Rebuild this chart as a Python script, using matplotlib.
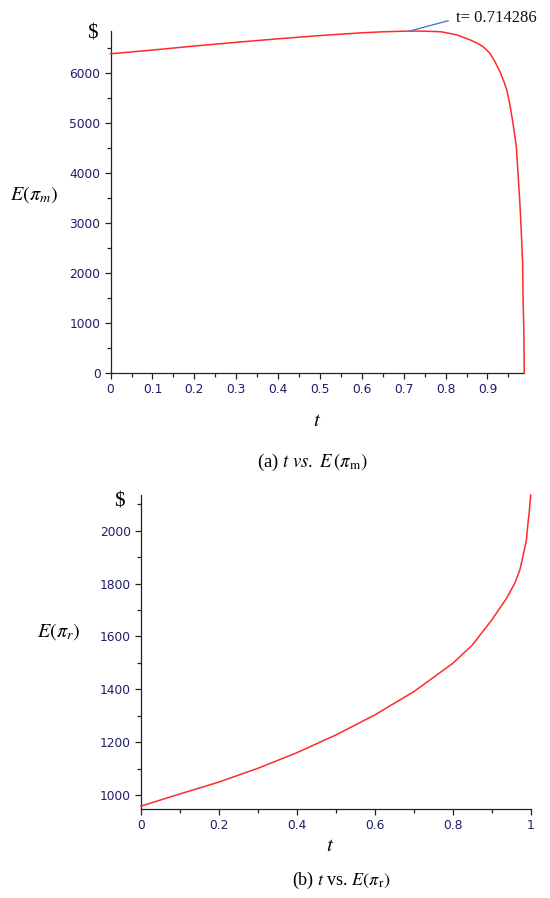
import matplotlib
matplotlib.use("Agg")
import matplotlib.pyplot as plt
from matplotlib.ticker import MultipleLocator, FixedLocator, FuncFormatter

plt.rcParams['mathtext.fontset'] = 'stix'

# ---------------- data ----------------
t_m = [0, 0.1, 0.2, 0.3, 0.4, 0.5, 0.6, 0.65, 0.714286, 0.75, 0.79, 0.826,
       0.858, 0.875, 0.89, 0.906, 0.918, 0.93, 0.94, 0.946, 0.953, 0.961,
       0.969, 0.973, 0.977, 0.981, 0.984, 0.985, 0.987, 0.988]
E_m = [6390, 6465, 6545, 6620, 6690, 6755, 6810, 6830, 6845, 6843, 6830, 6770,
       6670, 6605, 6530, 6400, 6230, 6030, 5820, 5670, 5400, 5000,
       4530, 4000, 3470, 2800, 2200, 1500, 800, 0]
t_peak = 0.714286
E_peak = 6845
peak_label = "t= 0.714286"

t_r = [0, 0.1, 0.2, 0.3, 0.4, 0.5, 0.6, 0.7, 0.8, 0.85, 0.9, 0.938, 0.959,
       0.972, 0.98, 0.989, 0.993, 0.996, 1.0]
E_r = [958, 1004, 1049, 1101, 1160, 1227, 1303, 1391, 1498, 1567, 1662, 1744,
       1801, 1851, 1902, 1965, 2028, 2066, 2135]

xticks_top = [0, 0.1, 0.2, 0.3, 0.4, 0.5, 0.6, 0.7, 0.8, 0.9]
yticks_top = [0, 1000, 2000, 3000, 4000, 5000, 6000]
xticks_bot = [0, 0.2, 0.4, 0.6, 0.8, 1]
yticks_bot = [1000, 1200, 1400, 1600, 1800, 2000]

W, H = 550, 898
fig = plt.figure(figsize=(W / 100, H / 100), dpi=100)

RED = '#ff2a2a'
TICKC = '#1e1e66'
SPINE = '#222222'


def px(x0, y0, x1, y1):
    return [x0 / W, 1 - y1 / H, (x1 - x0) / W, (y1 - y0) / H]


def style(ax):
    for s in ['top', 'right']:
        ax.spines[s].set_visible(False)
    for s in ['left', 'bottom']:
        ax.spines[s].set_color(SPINE)
        ax.spines[s].set_linewidth(0.9)
    ax.tick_params(which='major', length=4.2, width=0.9, color=SPINE,
                   labelsize=8.8, labelcolor=TICKC, pad=3)
    ax.tick_params(which='minor', length=3.0, width=0.9, color=SPINE)
    for lab in ax.get_xticklabels() + ax.get_yticklabels():
        lab.set_fontfamily('DejaVu Sans')


def fmt(v, pos):
    return '%g' % v


# ---------------- top panel ----------------
ax1 = fig.add_axes(px(110.6, 30.7, 524.3, 373.3))
ax1.plot(t_m, E_m, color=RED, lw=1.1, clip_on=False, zorder=3)
ax1.set_xlim(0, 0.988)
ax1.set_ylim(0, 6852)
ax1.xaxis.set_major_locator(FixedLocator(xticks_top))
ax1.xaxis.set_minor_locator(MultipleLocator(0.05))
ax1.yaxis.set_major_locator(FixedLocator(yticks_top))
ax1.yaxis.set_minor_locator(MultipleLocator(500))
ax1.xaxis.set_major_formatter(FuncFormatter(fmt))
ax1.yaxis.set_major_formatter(FuncFormatter(fmt))
style(ax1)
ax1.annotate('', xy=(t_peak, E_peak), xytext=(448.3, H - 20.7),
             textcoords='figure pixels',
             arrowprops=dict(arrowstyle='-', color='#3b6fd0', lw=0.9,
                             shrinkA=0, shrinkB=0))
fig.text(456 / W, 1 - 18.5 / H, peak_label, fontsize=12,
         family='Liberation Serif', va='center', ha='left', color='#111111')

fig.text(92.3 / W, 1 - 34 / H, '$', fontsize=15, family='Liberation Serif',
         ha='center', va='center')
fig.text(34 / W, 1 - 195 / H, r'$E(\pi_m)$', fontsize=14.5, ha='center',
         va='center')
fig.text(317.5 / W, 1 - 420 / H, r'$t$', fontsize=15, ha='center', va='center')
fig.text(312 / W, 1 - 462 / H, r'(a) $t\ vs.\ E\,(\pi_{\mathrm{m}})$',
         fontsize=13.5, family='Liberation Serif', ha='center', va='center')

# ---------------- bottom panel ----------------
ax2 = fig.add_axes(px(141, 495, 530.7, 809))
ax2.plot(t_r, E_r, color=RED, lw=1.1, clip_on=False, zorder=3)
ax2.set_xlim(0, 1)
ax2.set_ylim(947, 2135)
ax2.xaxis.set_major_locator(FixedLocator(xticks_bot))
ax2.xaxis.set_minor_locator(MultipleLocator(0.1))
ax2.yaxis.set_major_locator(FixedLocator(yticks_bot))
ax2.yaxis.set_minor_locator(MultipleLocator(100))
ax2.xaxis.set_major_formatter(FuncFormatter(fmt))
ax2.yaxis.set_major_formatter(FuncFormatter(fmt))
style(ax2)

fig.text(119.3 / W, 1 - 502 / H, '$', fontsize=15, family='Liberation Serif',
         ha='center', va='center')
fig.text(59 / W, 1 - 632 / H, r'$E(\pi_r)$', fontsize=14.5, ha='center',
         va='center')
fig.text(330 / W, 1 - 845 / H, r'$t$', fontsize=15, ha='center', va='center')
fig.text(341 / W, 1 - 880 / H, r'(b) $t$ vs. $E(\pi_{\mathrm{r}})$',
         fontsize=13, family='Liberation Serif', ha='center', va='center')

fig.savefig('out.png', dpi=100)
